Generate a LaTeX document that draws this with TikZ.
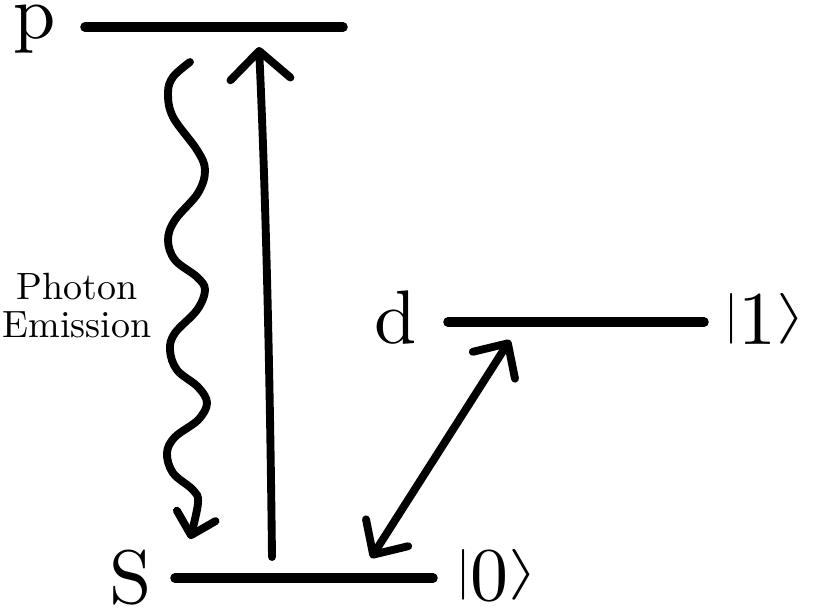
\documentclass[tikz,border=0pt]{standalone}
\usepackage{amsmath}
\usepackage{graphicx}
\usepackage{fontspec}
\setmainfont{lmroman10-regular.otf}
\usetikzlibrary{positioning}
\usetikzlibrary{arrows.meta}
\newcommand{\ketbar}{\raisebox{9pt}{\scalebox{1.45}{\fontsize{24.88}{25}\selectfont$|$}}}
\newcommand{\ketend}{\raisebox{9pt}{\scalebox{2.2}[1.45]{\fontsize{24.88}{25}\selectfont$\rangle$}}}

\begin{document}
\begin{tikzpicture}[x=0.025cm,y=-0.025cm,
  level/.style={line width=6.8pt,line cap=round},
  trans/.style={line width=5.6pt,line cap=round,line join=round},
  big/.style={font=\fontsize{54}{56}\selectfont,inner sep=0pt}]
 \useasboundingbox (0,0) rectangle (823,607);
 % levels
 \coordinate (pL) at (85,27);  \coordinate (pR) at (343,27);
 \coordinate (sL) at (175,578); \coordinate (sR) at (433,578);
 \coordinate (dL) at (448,322); \coordinate (dR) at (704,322);
 \draw[level] (pL)--(pR);
 \draw[level] (sL)--(sR);
 \draw[level] (dL)--(dR);
 \node[big,anchor=base] (pLab) at (35,38) {p};
 \node[big,anchor=base] (sLab) at (131,603) {S};
 \node[big,anchor=base] (dLab) at (396,343) {d};
 \node[big,anchor=base west] (ket1) at (724,344) {\ketbar1\ketend};
 \node[big,anchor=base west] (ket0) at (456,600) {\ketbar0\ketend};
 \node[align=center,font=\fontsize{27}{27}\selectfont,inner sep=0pt] (emit) at (77,306) {Photon\\Emission};
 % transitions
 \coordinate (upBot) at (272,557); \coordinate (upTop) at (259,47);
 \draw[trans,-{Straight Barb[round,length=0.7cm,width=1.5cm]}] (upBot) .. controls (270,380) and (266,200) .. (upTop);
 \coordinate (emTop) at (190,62); \coordinate (emBot) at (190,539);
 \draw[trans,-{Straight Barb[round,length=0.5cm,width=1.0cm]}] plot[smooth,tension=0.6] coordinates {(emTop) (173,77) (168,93) (173,117) (197,150) (205,170) (198,193) (175,220) (168,240) (175,260) (197,277) (205,290) (197,310) (175,333) (170,350) (177,370) (198,387) (207,403) (198,420) (175,437) (167,453) (173,473) (193,490) (198,503) (emBot)};
 \coordinate (rabiLo) at (371,558); \coordinate (rabiHi) at (510,340);
 \draw[trans,{Straight Barb[round,length=0.65cm,width=1.25cm]}-{Straight Barb[round,length=0.65cm,width=1.25cm]}] (rabiLo)--(rabiHi);
\end{tikzpicture}
\end{document}
